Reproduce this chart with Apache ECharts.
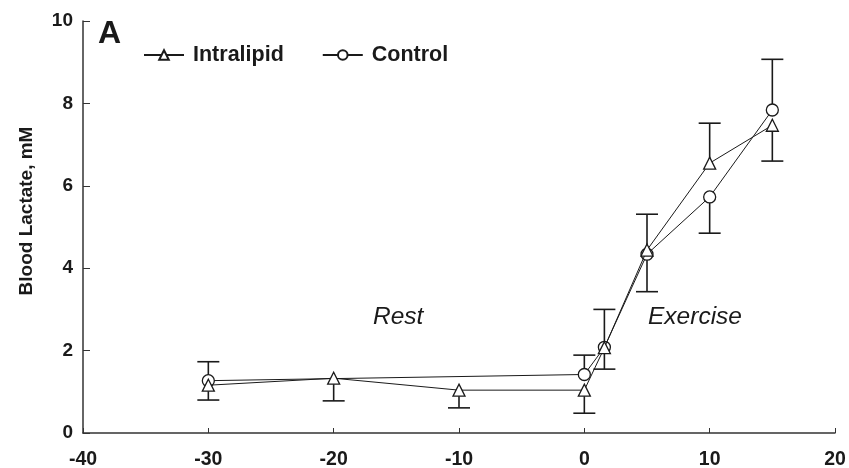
<!DOCTYPE html>
<html>
<head>
<meta charset="utf-8">
<script src="https://cdn.jsdelivr.net/npm/echarts@6/dist/echarts.min.js"></script>
<style>
  html, body { margin: 0; padding: 0; background: #fff; }
  #chart { width: 849px; height: 468px; }
</style>
</head>
<body>
<div id="chart"></div>
<script>
// Time (min) relative to onset of exercise
const intralipidTime = [-30, -20, -10, 0, 1.6, 5, 10, 15];
const intralipidLactate = [1.16, 1.33, 1.04, 1.04, 2.07, 4.44, 6.55, 7.47];

const controlTime = [-30, -20, 0, 1.6, 5, 10, 15];
const controlLactate = [1.27, 1.32, 1.42, 2.08, 4.34, 5.73, 7.84];

// Error bar end points (mM), null where no bar is drawn
const intralipidErrEnd = [0.80, 0.78, 0.61, 0.48, 1.55, 3.43, 7.52, 6.60];
const controlErrEnd = [1.73, null, 1.89, 3.00, 5.31, 4.85, 9.07];

// Control point at -20 sits under the Intralipid marker
const controlHiddenMarker = [false, true, false, false, false, false, false];

const xTicks = [-40, -30, -20, -10, 0, 10, 20];
const yTicks = [0, 2, 4, 6, 8, 10];

const ink = '#1a1a1a';
const fontFamily = 'Liberation Sans, Arial, Helvetica, sans-serif';

function pairs(xs, ys) {
  return xs.map((x, i) => [x, ys[i]]);
}

function errData(xs, ys, ends) {
  const out = [];
  xs.forEach((x, i) => {
    if (ends[i] !== null) out.push([x, ys[i], ends[i]]);
  });
  return out;
}

function renderErr(params, api) {
  const p0 = api.coord([api.value(0), api.value(1)]);
  const p1 = api.coord([api.value(0), api.value(2)]);
  const half = 11;
  const style = { stroke: ink, lineWidth: 1.6, fill: null };
  return {
    type: 'group',
    children: [
      { type: 'line', shape: { x1: p0[0], y1: p0[1], x2: p1[0], y2: p1[1] }, style: style },
      { type: 'line', shape: { x1: p1[0] - half, y1: p1[1], x2: p1[0] + half, y2: p1[1] }, style: style }
    ]
  };
}

const chart = echarts.init(document.getElementById('chart'));

chart.setOption({
  animation: false,
  backgroundColor: '#fff',
  grid: { left: 83, right: 14, top: 21, bottom: 35, containLabel: false, outerBoundsMode: 'none' },
  legend: {
    left: 143,
    top: 44,
    padding: 0,
    itemWidth: 40,
    itemHeight: 12,
    itemGap: 38,
    textStyle: { fontFamily: fontFamily, fontSize: 21.5, fontWeight: 'bold', color: ink, padding: [0, 0, 0, 4] },
    data: ['Intralipid', 'Control']
  },
  title: [
    { text: 'A', left: 98, top: 18, padding: 0, textStyle: { fontFamily: fontFamily, fontSize: 32, fontWeight: 'bold', color: ink } }
  ],
  graphic: [
    { type: 'text', left: 373, top: 305, style: { text: 'Rest', font: 'italic 24.5px ' + fontFamily, fill: ink } },
    { type: 'text', left: 648, top: 305, style: { text: 'Exercise', font: 'italic 24.5px ' + fontFamily, fill: ink } }
  ],
  xAxis: {
    type: 'value',
    min: xTicks[0],
    max: xTicks[xTicks.length - 1],
    interval: 10,
    axisLine: { lineStyle: { color: '#333', width: 1.5 } },
    axisTick: { inside: true, length: 5, lineStyle: { color: '#333' } },
    axisLabel: { fontFamily: fontFamily, fontSize: 19.5, fontWeight: 'bold', color: ink, margin: 17 },
    splitLine: { show: false }
  },
  yAxis: {
    type: 'value',
    min: yTicks[0],
    max: yTicks[yTicks.length - 1],
    interval: 2,
    name: 'Blood Lactate, mM',
    nameLocation: 'middle',
    nameGap: 47,
    nameTextStyle: { fontFamily: fontFamily, fontSize: 19, fontWeight: 'bold', color: ink, padding: [0, 0, 0, 32] },
    axisLine: { show: true, onZero: false, lineStyle: { color: '#333', width: 1.5 } },
    axisTick: { show: true, inside: true, length: 7, lineStyle: { color: '#333' } },
    axisLabel: { fontFamily: fontFamily, fontSize: 19, fontWeight: 'bold', color: ink, margin: 10,
      formatter: v => String(v), padding: [4, 0, 0, 0] },
    splitLine: { show: false }
  },
  series: [
    {
      name: 'Intralipid',
      type: 'line',
      data: pairs(intralipidTime, intralipidLactate),
      symbol: 'triangle',
      symbolSize: 12,
      showAllSymbol: true,
      lineStyle: { color: ink, width: 1 },
      itemStyle: { color: '#fff', borderColor: ink, borderWidth: 1.3 },
      z: 3
    },
    {
      name: 'Control',
      type: 'line',
      data: pairs(controlTime, controlLactate).map((p, i) =>
        controlHiddenMarker[i] ? { value: p, symbolSize: 0 } : p),
      symbol: 'circle',
      symbolSize: 12,
      showAllSymbol: true,
      lineStyle: { color: ink, width: 1 },
      itemStyle: { color: '#fff', borderColor: ink, borderWidth: 1.3 },
      z: 2
    },
    {
      type: 'custom',
      data: errData(intralipidTime, intralipidLactate, intralipidErrEnd),
      renderItem: renderErr,
      encode: { x: 0, y: [1, 2] },
      z: 1
    },
    {
      type: 'custom',
      data: errData(controlTime, controlLactate, controlErrEnd),
      renderItem: renderErr,
      encode: { x: 0, y: [1, 2] },
      z: 1
    }
  ]
});
</script>
</body>
</html>
